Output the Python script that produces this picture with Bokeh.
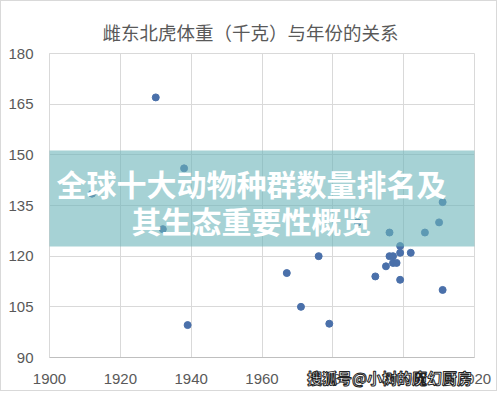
from bokeh.plotting import figure
from bokeh.models import Label, BoxAnnotation, ColumnDataSource, Range1d, FixedTicker, LinearAxis
from bokeh.embed import file_html
from bokeh.resources import INLINE

# ---- data ----
years = [1912, 1930, 1932, 1938, 1939, 1967, 1971, 1976, 1979, 1987,
         1992, 1995, 1996, 1996, 1997, 1997, 1998, 1999, 1999, 1999,
         2002, 2006, 2010, 2011, 2011]
weights = [138.5, 167, 128, 146, 99.6, 115, 105, 120, 100, 130,
           114, 117, 120, 127, 120, 118, 118, 121, 123, 113,
           121, 127, 130, 136, 110]
x_ticks = [1900, 1920, 1940, 1960, 1980, 2000, 2020]
y_ticks = [90, 105, 120, 135, 150, 165, 180]
title_text = "雌东北虎体重（千克）与年份的关系"
banner_line1 = "全球十大动物种群数量排名及"
banner_line2 = "其生态重要性概览"
watermark = "搜狐号@小树的魔幻厨房"

src = ColumnDataSource(dict(x=years, y=weights))

p = figure(width=497, height=391,
           x_range=Range1d(x_ticks[0], x_ticks[-1]),
           y_range=Range1d(y_ticks[0], y_ticks[-1]),
           output_backend="svg", toolbar_location=None,
           min_border_left=48, min_border_right=24,
           min_border_top=52, min_border_bottom=35)
p.styles = {"border": "1px solid #d9d9d9"}

p.background_fill_color = "white"
p.border_fill_color = "white"
p.outline_line_color = "#d9d9d9"

# title
p.title.text = title_text
p.title.align = "left"
p.title.offset = 53
p.title.standoff = 18
p.title.text_line_height = 0.6
p.title.text_font = "Noto Sans CJK SC"
p.title.text_font_size = "18.5px"
p.title.text_font_style = "normal"
p.title.text_color = "#595959"

for ax, ticks in ((p.xaxis, x_ticks), (p.yaxis, y_ticks)):
    ax.ticker = FixedTicker(ticks=ticks)
    ax.major_tick_line_color = None
    ax.minor_tick_line_color = None
    ax.major_label_text_font = "Liberation Sans"
    ax.major_label_text_font_size = "15px"
    ax.major_label_text_color = "#595959"
    ax.major_label_standoff = 10
p.xaxis.axis_line_color = "#bfbfbf"
p.yaxis.axis_line_color = "#d9d9d9"
p.xgrid.ticker = FixedTicker(ticks=x_ticks)
p.ygrid.ticker = FixedTicker(ticks=y_ticks)
p.grid.grid_line_color = "#d9d9d9"

# watermark, carried by the x axis label (ideographic spaces push it to the right)
xa = p.xaxis[0]
xa.axis_label = "\u3000" * 17 + watermark
xa.axis_label_standoff = -20
xa.axis_label_text_font = "Noto Sans CJK SC"
xa.axis_label_text_font_size = "15px"
xa.axis_label_text_font_style = "bold"
xa.axis_label_text_line_height = 0.8
props = LinearAxis.properties()
if "axis_label_text_outline_color" in props:
    xa.axis_label_text_color = "white"
    xa.axis_label_text_outline_color = "#222222"
else:
    xa.axis_label_text_color = "#2e2e2e"

p.scatter("x", "y", source=src, size=7, color="#4a70aa", line_color="#4a70aa")

# banner overlay
p.add_layout(BoxAnnotation(left=0, right=497, top=148, bottom=244,
                           left_units="canvas", right_units="canvas",
                           top_units="canvas", bottom_units="canvas",
                           fill_color="#6bb4b9", fill_alpha=0.6, line_alpha=0,
                           level="overlay"))
for txt, yy in ((banner_line1, 180), (banner_line2, 217)):
    p.add_layout(Label(x=249, y=yy, x_units="canvas", y_units="canvas", text=txt,
                       text_font="Noto Sans CJK SC", text_font_size="30px",
                       text_font_style="bold", text_color="white",
                       text_align="center", text_baseline="middle", level="overlay"))

open("out.html", "w").write(file_html(p, INLINE))
